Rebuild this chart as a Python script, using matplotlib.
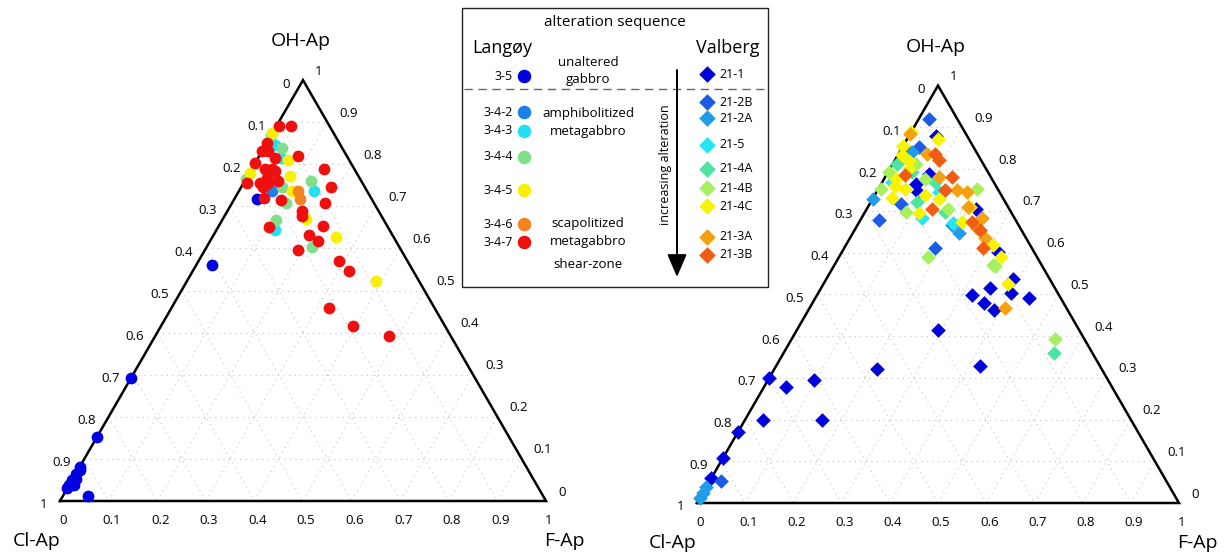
import numpy as np
import matplotlib.pyplot as plt
from matplotlib.patches import Rectangle

plt.rcParams['font.family'] = ['Open Sans', 'DejaVu Sans']

# compositions as (OH-Ap, F-Ap) fractions, Cl-Ap = 1 - OH - F

# Langøy samples (circles)
lan_names = ['3-5', '3-4-2', '3-4-3', '3-4-4', '3-4-5', '3-4-6', '3-4-7']
lan_colors = ['#0000e0', '#1e80e6', '#22e0f2', '#80e08a', '#f8f000', '#f58220', '#ee0f0f']
lan_oh = [
    [0.717, 0.561, 0.293, 0.152, 0.081, 0.065, 0.049, 0.038, 0.030, 0.053, 0.012, 0.073, 0.038],
    [0.737],
    [0.847, 0.737, 0.643, 0.815],
    [0.839, 0.760, 0.668, 0.603, 0.709, 0.745, 0.870, 0.764],
    [0.874, 0.810, 0.772, 0.627, 0.523, 0.670, 0.737, 0.780],
    [0.737, 0.717, 0.768],
    [0.890, 0.890, 0.851, 0.831, 0.831, 0.815, 0.803, 0.788, 0.788, 0.756, 0.756, 0.756,
     0.760, 0.745, 0.784, 0.768, 0.819, 0.789, 0.747, 0.709, 0.719, 0.715, 0.690, 0.678,
     0.654, 0.650, 0.633, 0.617, 0.596, 0.570, 0.547, 0.458, 0.415, 0.391],
]
lan_f = [
    [0.046, 0.032, 0.0, 0.0, 0.0, 0.0, 0.0, 0.0, 0.0, 0.007, 0.052, 0.004, 0.010],
    [0.067],
    [0.019, 0.154, 0.121, 0.048],
    [0.037, 0.137, 0.110, 0.218, 0.111, 0.084, 0.0, 0.0],
    [0.0, 0.065, 0.087, 0.254, 0.388, 0.172, 0.108, 0.0],
    [0.122, 0.135, 0.048],
    [0.005, 0.031, 0.0, 0.0, 0.013, 0.035, 0.0, 0.028, 0.042, 0.006, 0.034, 0.051,
     0.069, 0.046, 0.050, 0.041, 0.080, 0.148, 0.184, 0.191, 0.061, 0.097, 0.152, 0.158,
     0.214, 0.105, 0.196, 0.222, 0.192, 0.289, 0.322, 0.325, 0.395, 0.481],
]

# Valberg samples (diamonds)
val_names = ['21-1', '21-2B', '21-2A', '21-5', '21-4A', '21-4B', '21-4C', '21-3A', '21-3B']
val_colors = ['#0000dc', '#1a5ce6', '#1f9de6', '#22e6f2', '#4fe3a2', '#a6f060', '#f8f400',
              '#f5a010', '#f05c12']
val_oh = [
    [0.537, 0.515, 0.499, 0.502, 0.479, 0.462, 0.491, 0.414, 0.329, 0.321, 0.295, 0.277,
     0.299, 0.198, 0.200, 0.170, 0.109, 0.059, 0.880, 0.840, 0.765, 0.705, 0.601, 0.745, 0.789],
    [0.920, 0.852, 0.717, 0.678, 0.612, 0.052],
    [0.729, 0.666, 0.646, 0.840, 0.039, 0.023, 0.011],
    [0.769, 0.745, 0.682, 0.670],
    [0.813, 0.793, 0.721, 0.769, 0.698, 0.360],
    [0.793, 0.753, 0.813, 0.777, 0.698, 0.753, 0.590, 0.571, 0.705, 0.567, 0.392],
    [0.872, 0.888, 0.833, 0.856, 0.753, 0.694, 0.737, 0.729, 0.674, 0.618, 0.710, 0.777,
     0.525, 0.590, 0.82, 0.80, 0.76, 0.73],
    [0.884, 0.836, 0.749, 0.745, 0.710, 0.682, 0.658, 0.634, 0.781, 0.467],
    [0.836, 0.821, 0.785, 0.781, 0.749, 0.705, 0.674, 0.654, 0.610],
]
val_f = [
    [0.387, 0.350, 0.322, 0.400, 0.356, 0.385, 0.443, 0.294, 0.423, 0.212, 0.096, 0.047,
     0.0, 0.037, 0.160, 0.0, 0.0, 0.0, 0.056, 0.019, 0.071, 0.227, 0.325, 0.087, 0.086],
    [0.021, 0.034, 0.064, 0.039, 0.188, 0.023],
    [0.0, 0.196, 0.220, 0.026, 0.0, 0.0, 0.0],
    [0.020, 0.129, 0.126, 0.197],
    [0.009, 0.050, 0.096, 0.110, 0.166, 0.560],
    [0.002, 0.005, 0.047, 0.085, 0.084, 0.204, 0.185, 0.329, 0.169, 0.335, 0.546],
    [0.065, 0.0, 0.009, 0.0, 0.056, 0.113, 0.105, 0.137, 0.212, 0.306, 0.212, 0.024,
     0.382, 0.336, 0.03, 0.04, 0.03, 0.04],
    [0.0, 0.059, 0.164, 0.187, 0.208, 0.250, 0.251, 0.280, 0.111, 0.405],
    [0.076, 0.091, 0.040, 0.138, 0.140, 0.135, 0.233, 0.260, 0.289],
]

ticks = np.round(np.linspace(0, 1, 11), 1)

W, H = 1231, 557
S3 = np.sqrt(3) / 2


def to_xy(oh, f):
    oh = np.asarray(oh, float)
    f = np.asarray(f, float)
    return f + oh / 2, oh * S3


def make_ax(fig, px_lo, px_hi, vx, vy, side):
    ax = fig.add_axes([px_lo / W, 0, (px_hi - px_lo) / W, 1])
    ax.set_xlim((px_lo - vx) / side, (px_hi - vx) / side)
    ax.set_ylim((vy - H) / side, vy / side)
    ax.axis('off')
    return ax


def draw_frame(ax):
    g = dict(color='#c4c4c4', lw=0.8, ls=(0, (1, 4)), zorder=1)
    for t in ticks[1:-1]:
        ax.plot(*to_xy([t, t], [0, 1 - t]), **g)          # const OH
        ax.plot(*to_xy([0, 1 - t], [t, t]), **g)          # const F
        ax.plot(*to_xy([1 - t, 0], [0, 1 - t]), **g)      # const Cl
    ax.plot(*to_xy([0, 0, 1, 0], [0, 1, 0, 0]), color='k', lw=1.8,
            solid_joinstyle='miter', zorder=3)
    fs = 9.5
    for t in ticks:
        lab = f'{t:g}'
        ax.annotate(lab, to_xy(0, t), xytext=(3, -19), textcoords='offset pixels',
                    ha='center', va='center', fontsize=fs)
        ax.annotate(lab, to_xy(1 - t, 0), xytext=(-13, -4), textcoords='offset pixels',
                    ha='right', va='center', fontsize=fs)
        ax.annotate(lab, to_xy(t, 1 - t), xytext=(12, 9), textcoords='offset pixels',
                    ha='left', va='center', fontsize=fs)
    ax.annotate('OH-Ap', to_xy(1, 0), xytext=(-2, 39), textcoords='offset pixels',
                ha='center', va='center', fontsize=14)
    ax.annotate('Cl-Ap', to_xy(0, 0), xytext=(0, -40), textcoords='offset pixels',
                ha='right', va='center', fontsize=14)
    ax.annotate('F-Ap', to_xy(0, 1), xytext=(-2, -40), textcoords='offset pixels',
                ha='left', va='center', fontsize=14)


fig = plt.figure(figsize=(W / 100, H / 100), dpi=100)

axl = make_ax(fig, 0, 615, 60, 501, 486)
draw_frame(axl)
for oh, f, c in zip(lan_oh, lan_f, lan_colors):
    x, y = to_xy(oh, f)
    axl.scatter(x, y, s=72, c=c, marker='o', linewidths=0, zorder=4, clip_on=False)

axr = make_ax(fig, 620, 1231, 697, 503, 482)
draw_frame(axr)
for oh, f, c in zip(val_oh, val_f, val_colors):
    x, y = to_xy(oh, f)
    axr.scatter(x, y, s=56, c=c, marker='D', linewidths=0, zorder=4, clip_on=False)

# legend box in pixel coordinates
lg = fig.add_axes([0, 0, 1, 1], zorder=5)
lg.set_xlim(0, W)
lg.set_ylim(H, 0)
lg.axis('off')
lg.add_patch(Rectangle((462, 8), 306, 279, fc='white', ec='#222222', lw=1.0))
lg.plot([464, 766], [89, 89], color='#666666', lw=1.0, ls=(0, (6, 4)))
lg.text(615, 22, 'alteration sequence', ha='center', va='center', fontsize=11)
lg.text(502, 48, 'Langøy', ha='center', va='center', fontsize=13)
lg.text(728, 48, 'Valberg', ha='center', va='center', fontsize=13)

lan_rows = [76, 112, 131, 157, 190, 224, 242]
for name, c, y in zip(lan_names, lan_colors, lan_rows):
    lg.text(513, y, name, ha='right', va='center', fontsize=9)
    lg.scatter([524], [y], s=95, c=c, marker='o', linewidths=0)

notes = [('unaltered', 63), ('gabbro', 80), ('amphibolitized', 113), ('metagabbro', 131),
         ('scapolitized', 224), ('metagabbro', 242), ('shear-zone', 265)]
for txt, y in notes:
    lg.text(588, y, txt, ha='center', va='center', fontsize=9.5)

val_rows = [74, 102, 118, 145, 169, 188, 206, 237, 255]
for name, c, y in zip(val_names, val_colors, val_rows):
    lg.scatter([707], [y], s=72, c=c, marker='D', linewidths=0)
    lg.text(719, y, name, ha='left', va='center', fontsize=9)

lg.annotate('', xy=(677, 277), xytext=(677, 70),
            arrowprops=dict(arrowstyle='-|>,head_length=1.4,head_width=0.6',
                            color='k', lw=1.4, shrinkA=0, shrinkB=0))
lg.text(665, 165, 'increasing alteration', rotation=90, ha='center', va='center',
        fontsize=9)

fig.savefig('out.png', dpi=100)
